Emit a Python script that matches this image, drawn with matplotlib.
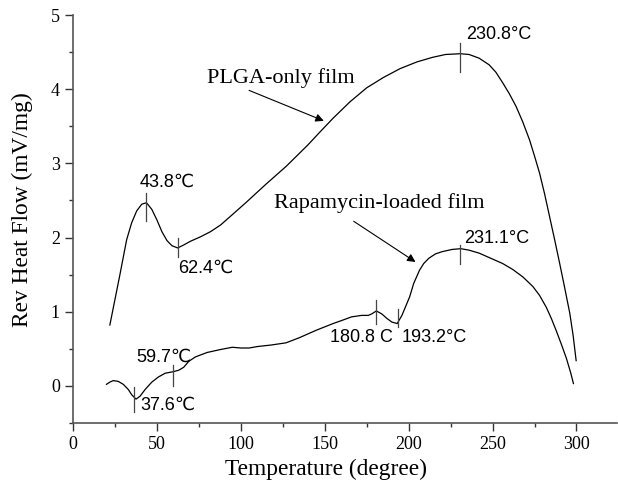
import matplotlib.pyplot as plt
import numpy as np
from matplotlib.ticker import MultipleLocator

# PLGA-only film
plga_t = [22, 25, 28, 32, 35, 38, 41, 43.8, 47, 50, 53, 56, 59, 62.4, 66, 70, 76, 82, 88,
          95, 103, 115, 127, 140, 147, 155, 165, 175, 185, 195, 205, 214, 222, 230.8,
          236, 242, 248, 252, 256, 260, 264, 268, 272, 275, 278, 281, 284, 287, 290,
          293, 296, 298, 299.8]
plga_y = [0.82, 1.16, 1.5, 1.97, 2.2, 2.36, 2.45, 2.47, 2.38, 2.24, 2.08, 1.96, 1.89, 1.86, 1.9, 1.95, 2.01, 2.08, 2.17,
          2.31, 2.47, 2.72, 2.96, 3.25, 3.42, 3.61, 3.83, 4.02, 4.16, 4.28, 4.37, 4.43, 4.47, 4.48,
          4.47, 4.42, 4.33, 4.23, 4.09, 3.94, 3.77, 3.56, 3.32, 3.1, 2.87, 2.59, 2.28, 1.97, 1.65,
          1.32, 0.98, 0.68, 0.34]

# Rapamycin-loaded film
rapa_t = [20, 22, 24, 27, 30, 33, 35, 37.6, 40, 43, 47, 51, 55, 59.7, 63, 66, 69, 73, 80, 88,
          95, 100, 105, 110, 118, 127, 135, 145, 155, 160, 166, 172, 176, 178, 180.8, 184, 187,
          190, 193.2, 196, 200.6, 203, 206.5, 209, 212, 216, 220, 226, 231.1, 236, 242, 249,
          256, 262, 268, 274, 278, 282, 285, 288, 291, 294, 296.5, 298.2]
rapa_y = [0.02, 0.05, 0.07, 0.06, 0.02, -0.05, -0.12, -0.18, -0.14, -0.05, 0.05, 0.12, 0.17, 0.19, 0.21, 0.25, 0.33, 0.39, 0.45, 0.49,
          0.52, 0.51, 0.51, 0.53, 0.55, 0.58, 0.65, 0.75, 0.84, 0.88, 0.93, 0.95, 0.95, 0.97, 1.01, 0.97, 0.91,
          0.86, 0.84, 0.95, 1.2, 1.38, 1.56, 1.65, 1.72, 1.78, 1.81, 1.84, 1.85, 1.83, 1.79, 1.72,
          1.65, 1.57, 1.47, 1.34, 1.22, 1.06, 0.91, 0.74, 0.56, 0.37, 0.18, 0.03]

# peak markers: (x, y_low, y_high)
marks = [(43.8, 2.22, 2.60), (62.6, 1.74, 1.99), (230.4, 4.24, 4.63),
         (36.5, -0.36, -0.02), (59.7, 0.0, 0.28), (180.4, 0.84, 1.16),
         (193.6, 0.80, 1.03), (230.4, 1.65, 1.90)]

# peak labels: (x, y, text)
labels = [(39.7, 2.74, '43.8\u2103'), (62.5, 1.59, '62.4\u2103'), (234.5, 4.74, '230.8\u00b0C'),
          (38.0, 0.385, '59.7\u2103'), (40.0, -0.26, '37.6\u2103'), (153.0, 0.65, '180.8 C'),
          (195.8, 0.65, '193.2\u00b0C'), (233.3, 1.99, '231.1\u00b0C')]

fig = plt.figure(figsize=(6.18, 4.9), dpi=100)
ax = fig.add_axes([0.118, 0.137, 0.88, 0.832])

ax.plot(plga_t, plga_y, color='black', lw=0.9)
ax.plot(rapa_t, rapa_y, color='black', lw=0.9)

for x, y0, y1 in marks:
    ax.plot([x, x], [y0, y1], color='#444444', lw=0.9)

for x, y, s in labels:
    ax.text(x, y, s, fontsize=13, va='center', ha='left',
            family=['Liberation Sans', 'DejaVu Sans'])

ax.annotate('', xy=(151, 3.56), xytext=(103.4, 4.0),
            arrowprops=dict(arrowstyle='-|>', color='black', lw=0.8, mutation_scale=12))
ax.text(79.7, 4.15, 'PLGA-only film', fontsize=16, family='Liberation Serif', va='center')
ax.annotate('', xy=(205.5, 1.65), xytext=(165.9, 2.24),
            arrowprops=dict(arrowstyle='-|>', color='black', lw=0.8, mutation_scale=12))
ax.text(120, 2.46, 'Rapamycin-loaded film', fontsize=16, family='Liberation Serif', va='center')

ax.set_xlim(0, 324)
ax.set_ylim(-0.5, 5)
ax.xaxis.set_major_locator(MultipleLocator(50))
ax.xaxis.set_minor_locator(MultipleLocator(25))
ax.yaxis.set_major_locator(MultipleLocator(1))
ax.yaxis.set_minor_locator(MultipleLocator(0.5))
ax.spines['top'].set_visible(False)
ax.spines['right'].set_visible(False)
for sp in ['left', 'bottom']:
    ax.spines[sp].set_color('#555555')
    ax.spines[sp].set_linewidth(1.2)
ax.tick_params(which='both', direction='out', color='#333333')
ax.tick_params(which='major', length=5.8, width=1.0)
ax.tick_params(which='minor', length=3, width=1.0)
ax.tick_params(labelsize=13)
for lab in ax.get_xticklabels() + ax.get_yticklabels():
    lab.set_family('Liberation Serif')

ax.set_xlabel('Temperature (degree)', fontsize=16.8, family='Liberation Serif')
ax.set_ylabel('Rev Heat Flow (mV/mg)', fontsize=16.8, family='Liberation Serif')
ax.xaxis.set_label_coords(0.465, -0.088)
ax.yaxis.set_label_coords(-0.074, 0.522)

plt.savefig('out.png')
